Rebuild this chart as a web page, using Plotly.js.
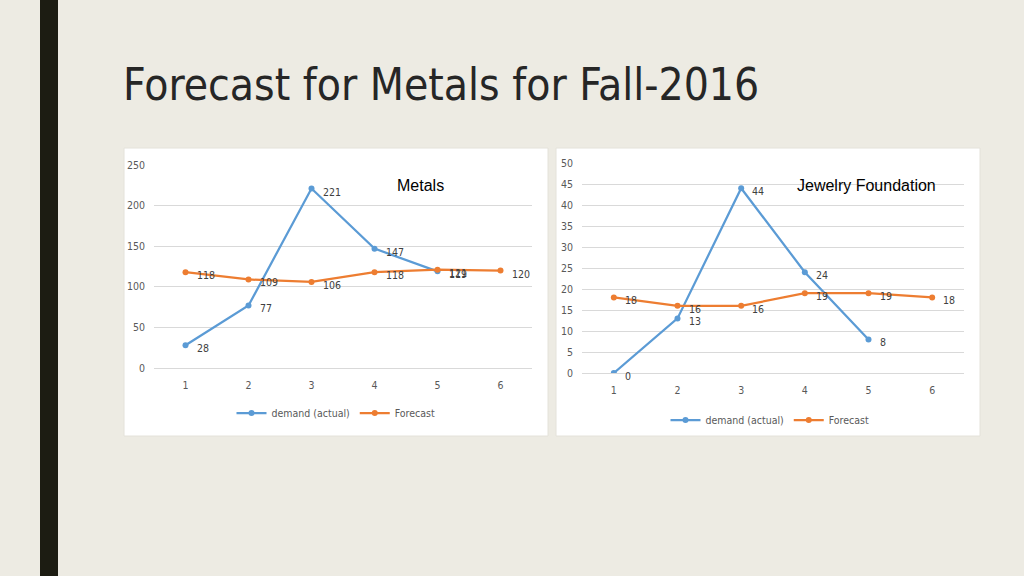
<!DOCTYPE html>
<html>
<head>
<meta charset="utf-8">
<script src="https://cdn.plot.ly/plotly-3.0.1.min.js"></script>
<style>
  html, body { margin: 0; padding: 0; background: #EDEBE3; }
  #graph { width: 1024px; height: 576px; }
</style>
</head>
<body>
<div id="graph"></div>
<script>
var periods = [1, 2, 3, 4, 5, 6];

// Metals
var metals_demand = [28, 77, 221, 147, 119];
var metals_forecast = [118, 109, 106, 118, 121, 120];

// Jewelry Foundation
var jewelry_demand = [0, 13, 44, 24, 8];
var jewelry_forecast = [18, 16, 16, 19, 19, 18];

var blue = '#5B9BD5';
var orange = '#ED7D31';
var narrow = '"Liberation Sans Narrow", "DejaVu Sans Condensed", "Liberation Sans", sans-serif';

function line_trace(name, xs, ys, color, xa, ya, leg) {
	return {
		x: xs.slice(0, ys.length),
		y: ys,
		name: name,
		type: 'scatter',
		mode: 'lines+markers',
		line: {color: color, width: 2.25},
		marker: {color: color, size: 6},
		xaxis: xa,
		yaxis: ya,
		legend: leg,
		hoverinfo: 'x+y'
	};
}

// data labels, put to the right of each point like the excel ones
function labels(xs, ys, xa, ya) {
	var out = [];
	for (var i = 0; i < ys.length; i++) {
		out.push({
			x: xs[i], y: ys[i], xref: xa, yref: ya,
			text: String(ys[i]),
			showarrow: false,
			xanchor: 'left', yanchor: 'middle',
			xshift: 9, yshift: -3,
			font: {family: narrow, size: 10.5, color: '#404040'}
		});
	}
	return out;
}

var traces = [
	line_trace('demand (actual)', periods, metals_demand, blue, 'x', 'y', 'legend'),
	line_trace('Forecast', periods, metals_forecast, orange, 'x', 'y', 'legend'),
	line_trace('demand (actual)', periods, jewelry_demand, blue, 'x2', 'y2', 'legend2'),
	line_trace('Forecast', periods, jewelry_forecast, orange, 'x2', 'y2', 'legend2')
];

var tickfont = {family: narrow, size: 10.5, color: '#595959'};

function xaxis_cfg(domain, anchor) {
	return {
		domain: domain, anchor: anchor,
		range: [0.5, 6.5],
		tickvals: periods,
		showgrid: false, zeroline: false, showline: false,
		ticks: '', tickfont: tickfont,
		ticklabelstandoff: 9,
		fixedrange: true
	};
}

function yaxis_cfg(domain, anchor, max, step) {
	return {
		domain: domain, anchor: anchor,
		range: [0, max],
		dtick: step,
		showgrid: true, gridcolor: '#D9D9D9', gridwidth: 1,
		zeroline: true, zerolinecolor: '#D9D9D9', zerolinewidth: 1,
		showline: false, ticks: '',
		ticklabelstandoff: 8,
		tickfont: tickfont,
		fixedrange: true
	};
}

var annotations = []
	.concat(labels(periods, metals_demand, 'x', 'y'))
	.concat(labels(periods, metals_forecast, 'x', 'y'))
	.concat(labels(periods, jewelry_demand, 'x2', 'y2'))
	.concat(labels(periods, jewelry_forecast, 'x2', 'y2'));

annotations.push({
	x: 420 / 1024, y: 1 - 185 / 576, xref: 'paper', yref: 'paper',
	text: 'Metals', showarrow: false, xanchor: 'center', yanchor: 'middle',
	font: {family: '"Liberation Sans", Arial, sans-serif', size: 16, color: '#000000'}
});
annotations.push({
	x: 866 / 1024, y: 1 - 185 / 576, xref: 'paper', yref: 'paper',
	text: 'Jewelry Foundation', showarrow: false, xanchor: 'center', yanchor: 'middle',
	font: {family: '"Liberation Sans", Arial, sans-serif', size: 16, color: '#000000'}
});

var shapes = [
	// dark bar on the left edge
	{type: 'rect', xref: 'paper', yref: 'paper', x0: 40 / 1024, x1: 58 / 1024, y0: 0, y1: 1,
		fillcolor: '#1C1C12', line: {width: 0}, layer: 'below'},
	// white chart panels
	{type: 'rect', xref: 'paper', yref: 'paper', x0: 124 / 1024, x1: 548 / 1024, y0: 1 - 436 / 576, y1: 1 - 148 / 576,
		fillcolor: '#FFFFFF', line: {color: '#E4E2DA', width: 1}, layer: 'below'},
	{type: 'rect', xref: 'paper', yref: 'paper', x0: 556 / 1024, x1: 980 / 1024, y0: 1 - 436 / 576, y1: 1 - 148 / 576,
		fillcolor: '#FFFFFF', line: {color: '#E4E2DA', width: 1}, layer: 'below'}
];

var legendfont = {family: narrow, size: 10.5, color: '#595959'};

var layout = {
	width: 1024,
	height: 576,
	margin: {l: 0, r: 0, t: 0, b: 0},
	paper_bgcolor: '#EDEBE3',
	plot_bgcolor: '#FFFFFF',
	title: {
		text: 'Forecast for Metals for Fall-2016',
		xref: 'paper', yref: 'paper',
		x: 123 / 1024, xanchor: 'left',
		y: 1 - 85 / 576, yanchor: 'middle',
		font: {family: narrow, size: 44, color: '#262626'}
	},
	xaxis: xaxis_cfg([154 / 1024, 532 / 1024], 'y'),
	yaxis: yaxis_cfg([1 - 368 / 576, 1 - 165 / 576], 'x', 250, 50),
	xaxis2: xaxis_cfg([582 / 1024, 964 / 1024], 'y2'),
	yaxis2: yaxis_cfg([1 - 373 / 576, 1 - 163 / 576], 'x2', 50, 5),
	legend: {
		orientation: 'h', x: 336 / 1024, xanchor: 'center', y: 1 - 413 / 576, yanchor: 'middle',
		font: legendfont, bgcolor: 'rgba(0,0,0,0)', itemwidth: 30
	},
	legend2: {
		orientation: 'h', x: 770 / 1024, xanchor: 'center', y: 1 - 420 / 576, yanchor: 'middle',
		font: legendfont, bgcolor: 'rgba(0,0,0,0)', itemwidth: 30
	},
	annotations: annotations,
	shapes: shapes
};

Plotly.newPlot('graph', traces, layout, {displayModeBar: false, staticPlot: true});
</script>
</body>
</html>
